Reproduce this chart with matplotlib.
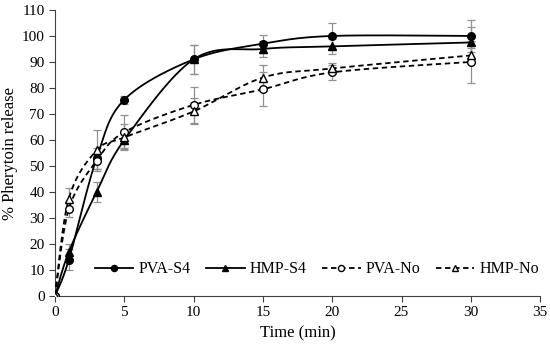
import numpy as np
import matplotlib.pyplot as plt

t = [0, 1, 3, 5, 10, 15, 20, 30]

pva_s4 = [0, 14, 53, 75.5, 91, 97, 100, 100]
pva_s4_err = [0, 4, 4, 1.5, 5.5, 3.5, 5, 6]
hmp_s4 = [0, 17, 40, 60, 91, 95, 96, 97.5]
hmp_s4_err = [0, 3, 4, 3, 5.5, 3, 3, 6]
pva_no = [0, 33.5, 52, 63, 73.5, 79.5, 86, 90]
pva_no_err = [0, 3, 3, 6.5, 7, 6.5, 3, 8]
hmp_no = [0, 37.5, 56, 61, 71, 84, 87.5, 92.5]
hmp_no_err = [0, 4, 8, 5, 5, 5, 2, 3]

labels = ["PVA-S4", "HMP-S4", "PVA-No", "HMP-No"]


def smooth(x, y, n=30):
    # catmull-rom style smoothing, similar to excel smoothed lines
    x = np.asarray(x, float)
    y = np.asarray(y, float)
    px = np.concatenate([[x[0]], x, [x[-1]]])
    py = np.concatenate([[y[0]], y, [y[-1]]])
    xs, ys = [], []
    for i in range(1, len(px) - 2):
        p0 = np.array([px[i - 1], py[i - 1]])
        p1 = np.array([px[i], py[i]])
        p2 = np.array([px[i + 1], py[i + 1]])
        p3 = np.array([px[i + 2], py[i + 2]])
        c1 = p1 + (p2 - p0) / 6
        c2 = p2 - (p3 - p1) / 6
        s = np.linspace(0, 1, n)[:, None]
        b = (1 - s) ** 3 * p1 + 3 * (1 - s) ** 2 * s * c1 + 3 * (1 - s) * s ** 2 * c2 + s ** 3 * p2
        xs.extend(b[:, 0])
        ys.extend(b[:, 1])
    return xs, ys


plt.rcParams['font.family'] = ['Liberation Serif', 'DejaVu Serif']
fig = plt.figure(figsize=(5.5, 3.55), dpi=100)
ax = fig.add_axes([0.1, 0.166, 0.882, 0.806])

series = [
    (pva_s4, pva_s4_err, 'o', 'black', '-'),
    (hmp_s4, hmp_s4_err, '^', 'black', '-'),
    (pva_no, pva_no_err, 'o', 'white', '--'),
    (hmp_no, hmp_no_err, '^', 'white', '--'),
]

for (y, e, m, fc, ls), lab in zip(series, labels):
    ax.errorbar(t, y, yerr=e, fmt='none', ecolor='#909090', elinewidth=0.9,
                capsize=3, capthick=0.9, zorder=2)
    sx, sy = smooth(t, y)
    dash = (3, 2) if ls == '--' else (None, None)
    ms = 6 if m == '^' else 5.5
    ax.plot(sx, sy, color='black', ls=ls, lw=1.3, zorder=3, dashes=dash)
    ax.plot(t, y, ls='none', marker=m, markersize=ms,
            mfc=fc, mec='black', mew=1.0, zorder=4)
    ax.plot([], [], color='black', ls=ls, lw=1.3, marker=m, markersize=ms,
            mfc=fc, mec='black', label=lab, dashes=dash)

ax.set_xlim(0, 35)
ax.set_ylim(0, 110)
ax.set_xticks(range(0, 36, 5))
ax.set_yticks(range(0, 111, 10))
ax.spines['top'].set_visible(False)
ax.spines['right'].set_visible(False)
ax.spines['left'].set_color('#404040')
ax.spines['bottom'].set_color('#404040')
ax.tick_params(direction='out', length=4, labelsize=11, color='#404040')
ax.set_xlabel("Time (min)", fontsize=12)
ax.set_ylabel("% Pherytoin release", fontsize=12)
ax.yaxis.set_label_coords(-0.077, 0.5)

ax.legend(loc='center', bbox_to_anchor=(0.54, 0.094), ncol=4, frameon=False,
          fontsize=11.5, handlelength=2.4, columnspacing=1.0, handletextpad=0.3,
          markerscale=0.8)

fig.savefig("out.png", dpi=100)
